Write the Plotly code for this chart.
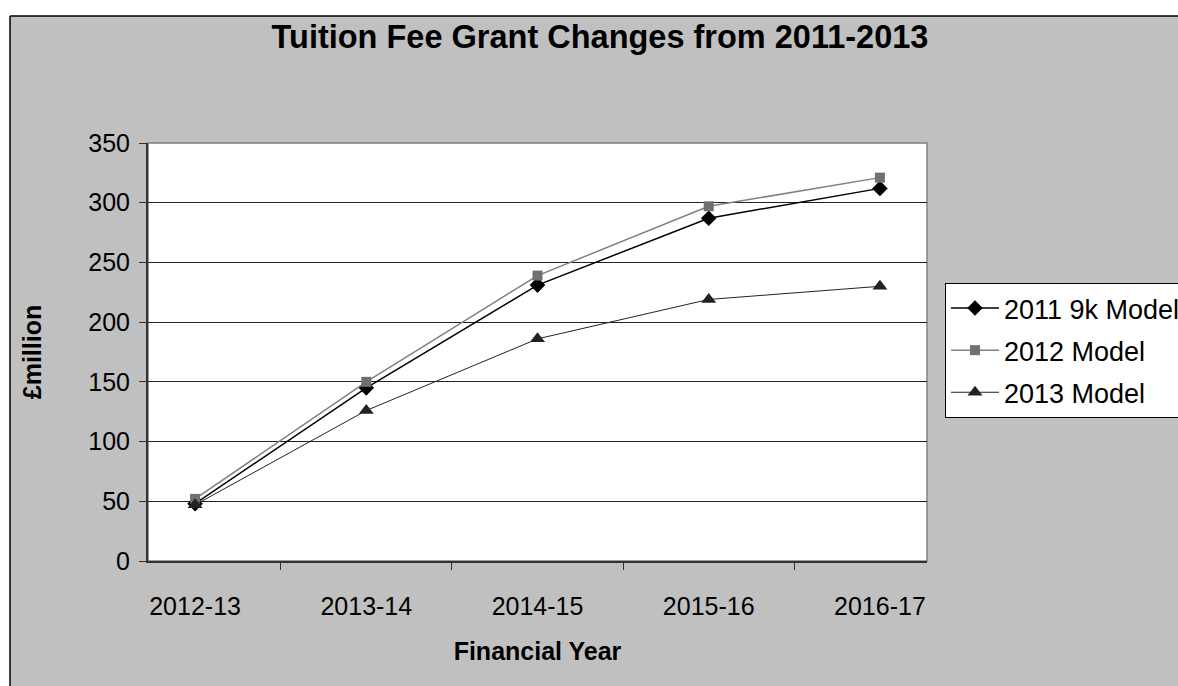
import plotly.graph_objects as go

years = ["2012-13", "2013-14", "2014-15", "2015-16", "2016-17"]
model_2011 = [48, 145, 231, 287, 312]
model_2012 = [52, 150, 239, 297, 321]
model_2013 = [47, 126, 186, 219, 230]

FONT = "Liberation Sans, Arial, sans-serif"
W, H = 1178, 686
L, R, T, B = 148, 251, 143, 125
pw, ph = W - L - R, H - T - B

def px_x(p):
    return (p - L) / pw

def px_y(p):
    return (H - B - p) / ph

fig = go.Figure()
fig.add_trace(go.Scatter(x=years, y=model_2011, name="2011 9k Model", mode="lines+markers",
                         legendgroup="a",
                         line=dict(color="black", width=1.5),
                         marker=dict(symbol="diamond", size=12, color="black")))
fig.add_trace(go.Scatter(x=years, y=model_2012, name="2012 Model", mode="lines+markers",
                         legendgroup="b",
                         line=dict(color="#808080", width=1.5),
                         marker=dict(symbol="square", size=10, color="#707070")))
fig.add_trace(go.Scatter(x=years, y=model_2013, name="2013 Model", mode="lines+markers",
                         legendgroup="c",
                         line=dict(color="#222222", width=1),
                         marker=dict(symbol="triangle-up", size=13, color="#222222")))

fig.update_layout(
    width=W, height=H,
    margin=dict(l=L, r=R, t=T, b=B, autoexpand=False),
    paper_bgcolor="#C0C0C0", plot_bgcolor="white",
    font=dict(family=FONT, size=25, color="black"),
    title=dict(text="<b>Tuition Fee Grant Changes from 2011-2013</b>", x=600 / W, xanchor="center",
               y=1 - 37 / H, yanchor="middle", font=dict(size=32.5, family=FONT)),
    showlegend=True,
    legend=dict(x=px_x(945), xanchor="left", y=px_y(283), yanchor="top",
                bgcolor="white", bordercolor="black", borderwidth=1,
                tracegroupgap=4, itemwidth=48,
                font=dict(size=27, family=FONT)),
    shapes=[
        # white strip above the chart frame
        dict(type="rect", xref="paper", yref="paper", layer="below",
             x0=px_x(-20), x1=px_x(1300), y0=px_y(16), y1=px_y(-20),
             fillcolor="white", line=dict(width=0)),
        # white strip left of the chart frame
        dict(type="rect", xref="paper", yref="paper", layer="below",
             x0=px_x(-20), x1=px_x(10), y0=px_y(800), y1=px_y(-20),
             fillcolor="white", line=dict(width=0)),
        # frame border lines
        dict(type="line", xref="paper", yref="paper", layer="below",
             x0=px_x(10), x1=px_x(1300), y0=px_y(16), y1=px_y(16),
             line=dict(color="black", width=1.5)),
        dict(type="line", xref="paper", yref="paper", layer="below",
             x0=px_x(10), x1=px_x(10), y0=px_y(16), y1=px_y(800),
             line=dict(color="black", width=1.5)),
        # plot area border
        dict(type="rect", xref="paper", yref="paper", layer="below",
             x0=0, x1=1, y0=0, y1=1,
             fillcolor="rgba(0,0,0,0)", line=dict(color="#808080", width=1.5)),
    ],
)
fig.update_xaxes(showline=True, linecolor="#333333", linewidth=1.5, ticks="outside",
                 tickson="boundaries", ticklen=7, tickcolor="#333333", showgrid=False,
                 ticklabelstandoff=22,
                 title=dict(text="<b>Financial Year</b>", font=dict(size=25, family=FONT), standoff=24))
fig.update_yaxes(range=[0, 350], dtick=50, showline=True, linecolor="#333333", linewidth=2,
                 ticks="outside", ticklen=7, tickcolor="#333333", showgrid=True,
                 gridcolor="#222222", gridwidth=1, zeroline=False, ticklabelstandoff=4,
                 title=dict(text="<b>£million</b>", font=dict(size=25, family=FONT), standoff=40))

fig.write_html("out.html", config={"displayModeBar": False},
               post_script="document.body.style.margin='0';document.body.style.overflow='hidden';")
